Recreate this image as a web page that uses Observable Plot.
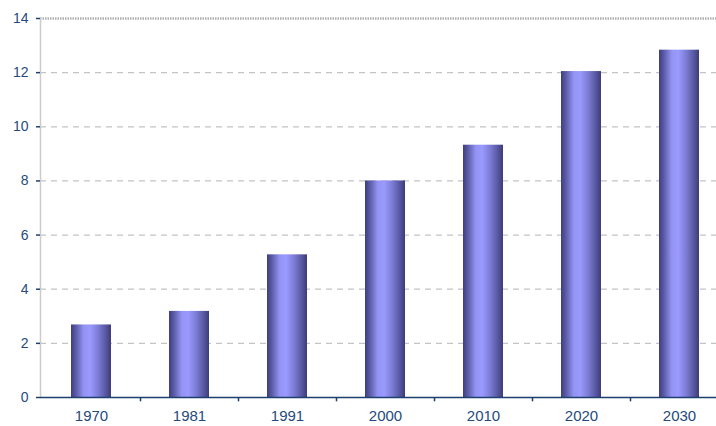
<!DOCTYPE html>
<html>
<head>
<meta charset="utf-8">
<script src="https://cdn.jsdelivr.net/npm/d3@7"></script>
<script src="https://cdn.jsdelivr.net/npm/@observablehq/plot@0.6"></script>
<style>
  html, body { margin: 0; padding: 0; background: #fff; overflow: hidden; }
  #chart svg { display: block; overflow: visible; }
</style>
</head>
<body>
<div id="chart"></div>
<script>
const years = ["1970", "1981", "1991", "2000", "2010", "2020", "2030"];
const values = [2.68, 3.18, 5.27, 8.0, 9.32, 12.04, 12.83];
const yTicks = [0, 2, 4, 6, 8, 10, 12, 14];
const gridTicks = [2, 4, 6, 8, 10, 12];

const data = years.map((y, i) => ({year: y, value: values[i]}));
const navy = "#1f3f6e";
const labelColor = "#264a7c";
const xRange = [42, 728];
const step = (xRange[1] - xRange[0]) / years.length;

const svg = Plot.plot({
  width: 716,
  height: 426,
  marginLeft: 40,
  marginRight: 0,
  marginTop: 18,
  marginBottom: 29,
  style: {fontFamily: "'Liberation Sans', Arial, sans-serif", background: "#fff"},
  x: {domain: years, range: xRange, paddingInner: 0.59, paddingOuter: 0.295},
  y: {domain: [0, 14], range: [397, 18]},
  marks: [
    Plot.ruleY(gridTicks, {stroke: "#c4c4c4", strokeDasharray: "6,5", strokeWidth: 1.2}),
    Plot.ruleY([14], {stroke: "#b0b0b0", strokeDasharray: "1.5,1", strokeWidth: 2.5}),
    Plot.frame({anchor: "left", stroke: "#cccccc", strokeWidth: 1.5}),
    Plot.barY(data, {x: "year", y: "value", fill: "url(#barGrad)"}),
    Plot.ruleY([0], {stroke: navy, strokeWidth: 1.6}),
    Plot.ruleX(years.slice(1), {x: d => d, dx: -step / 2, y1: 0, y2: -0.16, stroke: navy, strokeWidth: 1.5}),
    Plot.axisY({ticks: yTicks, tickSize: 4, tickPadding: 8, stroke: navy, strokeWidth: 1.5, fill: labelColor, fontSize: 14, label: null, tickFormat: d => String(d)}),
    Plot.axisX({tickSize: 0, tickPadding: 13, fill: labelColor, fontSize: 15, label: null})
  ]
});

const defs = d3.select(svg).insert("defs", ":first-child");
const grad = defs.append("linearGradient").attr("id", "barGrad")
  .attr("x1", "0%").attr("x2", "100%").attr("y1", "0%").attr("y2", "0%");
[["0%", "#3e3e7e"], ["12%", "#5a5aa6"], ["32%", "#9494f4"], ["48%", "#9a9aff"], ["68%", "#7c7cd4"], ["88%", "#55559e"], ["100%", "#3c3c78"]]
  .forEach(([o, c]) => grad.append("stop").attr("offset", o).attr("stop-color", c));

document.getElementById("chart").appendChild(svg);
</script>
</body>
</html>
